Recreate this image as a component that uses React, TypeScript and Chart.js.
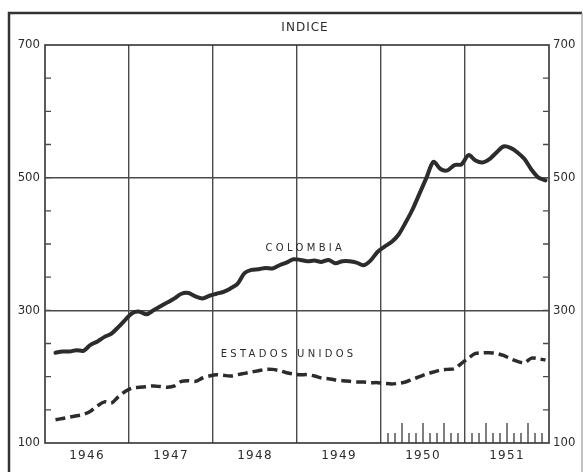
import React, { useEffect, useRef } from "react";
import { Chart, registerables } from "chart.js";

Chart.register(...registerables);

const TITLE = "INDICE";
const YEARS = ["1946", "1947", "1948", "1949", "1950", "1951"];
const Y_LABELS = [100, 300, 500, 700];
const SERIES_NAMES = ["COLOMBIA", "ESTADOS UNIDOS"];

// Monthly index values, Jan 1946 .. Dec 1951
const COLOMBIA = [
  null, 236, 238, 238, 240, 239, 248, 253, 260, 265, 275, 286,
  296, 298, 294, 300, 306, 312, 318, 325, 326, 321, 318, 322,
  325, 328, 333, 340, 356, 361, 362, 364, 363, 368, 372, 377,
  376, 374, 375, 373, 376, 371, 374, 374, 372, 368, 375, 388,
  396, 403, 414, 432, 452, 476, 500, 524, 513, 511, 519, 520,
  534, 526, 523, 528, 538, 547, 545, 538, 528, 512, 500, 496,
];
const ESTADOS_UNIDOS = [
  null, 135, 137, 139, 141, 143, 148, 156, 162, 160, 170, 178,
  183, 184, 185, 186, 185, 184, 186, 193, 194, 193, 198, 201,
  203, 202, 201, 203, 205, 207, 209, 211, 211, 209, 206, 204,
  203, 203, 201, 198, 197, 195, 194, 193, 192, 192, 191, 191,
  190, 189, 190, 192, 196, 200, 204, 207, 210, 211, 212, 220,
  228, 235, 236, 236, 235, 232, 227, 223, 221, 228, 227, 225,
];

const INK = "#2c2c2c";
const GRID = "#4a4a4a";
const NARROW = "'Liberation Sans Narrow', 'DejaVu Sans Condensed', sans-serif";
const WIDE = "'DejaVu Sans', sans-serif";

const decor = {
  id: "decor",
  beforeDraw(chart: any) {
    const ctx = chart.ctx;
    ctx.save();
    ctx.fillStyle = "#ffffff";
    ctx.fillRect(0, 0, chart.width, chart.height);
    ctx.restore();
  },
  afterDraw(chart: any) {
    const { ctx, chartArea: a, scales } = chart;
    const x = scales.x;
    const y = scales.y;
    ctx.save();
    ctx.strokeStyle = "#333";
    ctx.lineWidth = 1.6;
    ctx.strokeRect(a.left, a.top, a.right - a.left, a.bottom - a.top);

    // minor ticks on both value axes
    ctx.lineWidth = 1.3;
    ctx.strokeStyle = GRID;
    for (let v = 150; v < 700; v += 50) {
      const py = y.getPixelForValue(v);
      ctx.beginPath();
      ctx.moveTo(a.left, py);
      ctx.lineTo(a.left + 6, py);
      ctx.moveTo(a.right - 6, py);
      ctx.lineTo(a.right, py);
      ctx.stroke();
    }
    // month ticks for 1950-1951
    ctx.strokeStyle = "#3a3a3a";
    for (let m = 49; m < 72; m++) {
      if (m === 60) continue;
      const px = x.getPixelForValue(m);
      const len = m % 3 === 0 ? 20 : 10;
      ctx.beginPath();
      ctx.moveTo(px, a.bottom);
      ctx.lineTo(px, a.bottom - len);
      ctx.stroke();
    }

    // outer frame
    ctx.strokeStyle = "#333";
    ctx.lineWidth = 2.5;
    ctx.beginPath();
    ctx.moveTo(9, chart.height);
    ctx.lineTo(9, 13);
    ctx.lineTo(582, 13);
    ctx.stroke();
    ctx.lineWidth = 1.2;
    ctx.strokeStyle = "#999";
    ctx.beginPath();
    ctx.moveTo(582, 13);
    ctx.lineTo(582, chart.height);
    ctx.stroke();

    // title
    ctx.fillStyle = INK;
    ctx.textAlign = "center";
    ctx.textBaseline = "middle";
    ctx.font = `12px ${WIDE}`;
    (ctx as any).letterSpacing = "1px";
    ctx.fillText(TITLE, 305, 28);

    // series labels
    ctx.font = `10px ${WIDE}`;
    (ctx as any).letterSpacing = "3.3px";
    ctx.fillText(SERIES_NAMES[0], x.getPixelForValue(37.2), y.getPixelForValue(393));
    ctx.fillText(SERIES_NAMES[1], x.getPixelForValue(34.8), y.getPixelForValue(233));
    ctx.restore();
  },
};

export default function App() {
  const ref = useRef<HTMLCanvasElement>(null);
  useEffect(() => {
    document.body.style.margin = "0";
    const canvas = ref.current!;
    const chart = new Chart(canvas, {
      type: "line",
      data: {
        datasets: [
          {
            label: SERIES_NAMES[0],
            data: COLOMBIA.map((v, i) => ({ x: i + 0.5, y: v })) as any,
            borderColor: INK,
            borderWidth: 4,
            pointRadius: 0,
            tension: 0.3,
            borderCapStyle: "round",
            borderJoinStyle: "round",
          },
          {
            label: SERIES_NAMES[1],
            data: ESTADOS_UNIDOS.map((v, i) => ({ x: i + 0.5, y: v })) as any,
            borderColor: INK,
            borderWidth: 3.5,
            borderDash: [10, 5],
            pointRadius: 0,
            tension: 0.3,
          },
        ],
      },
      options: {
        responsive: false,
        animation: false,
        layout: { padding: { top: 45, left: 0, right: 0, bottom: 0 } },
        plugins: { legend: { display: false }, tooltip: { enabled: false } },
        scales: {
          x: {
            type: "linear",
            min: 0,
            max: 72,
            afterBuildTicks: (s: any) => {
              const t = [];
              for (let v = 0; v <= 72; v += 6) t.push({ value: v });
              s.ticks = t;
              if (!s._spaced) {
                const orig = s.drawLabels.bind(s);
                s.drawLabels = (ca: any) => {
                  s.ctx.save();
                  s.ctx.letterSpacing = "1.3px";
                  orig(ca);
                  s.ctx.restore();
                };
                s._spaced = true;
              }
            },
            afterFit: (s: any) => {
              s.height = 29;
            },
            ticks: {
              autoSkip: false,
              maxRotation: 0,
              padding: 6,
              color: INK,
              font: { family: WIDE, size: 12 },
              callback: (v: any) => (v % 12 === 6 ? YEARS[(v - 6) / 12] : ""),
            },
            grid: {
              drawTicks: false,
              lineWidth: 1.4,
              color: (c: any) =>
                c.tick && c.tick.value % 12 === 0 && c.tick.value > 0 && c.tick.value < 72
                  ? GRID
                  : "rgba(0,0,0,0)",
            },
            border: { display: false },
          },
          y: {
            type: "linear",
            position: "left",
            min: 100,
            max: 700,
            afterBuildTicks: (s: any) => {
              s.ticks = Y_LABELS.map((v) => ({ value: v }));
            },
            afterFit: (s: any) => {
              s.width = 45;
            },
            ticks: {
              padding: 5,
              color: INK,
              font: { family: NARROW, size: 13 },
            },
            grid: {
              drawTicks: false,
              lineWidth: 1.4,
              color: (c: any) =>
                c.tick && (c.tick.value === 300 || c.tick.value === 500) ? GRID : "rgba(0,0,0,0)",
            },
            border: { display: false },
          },
          y2: {
            type: "linear",
            position: "right",
            display: true,
            min: 100,
            max: 700,
            afterBuildTicks: (s: any) => {
              s.ticks = Y_LABELS.map((v) => ({ value: v }));
            },
            afterFit: (s: any) => {
              s.width = 37;
            },
            ticks: {
              padding: 4,
              color: INK,
              font: { family: NARROW, size: 13 },
            },
            grid: { display: false, drawTicks: false },
            border: { display: false },
          },
        },
      },
      plugins: [decor],
    });
    return () => chart.destroy();
  }, []);
  return <canvas ref={ref} width={586} height={472} style={{ display: "block" }} />;
}
